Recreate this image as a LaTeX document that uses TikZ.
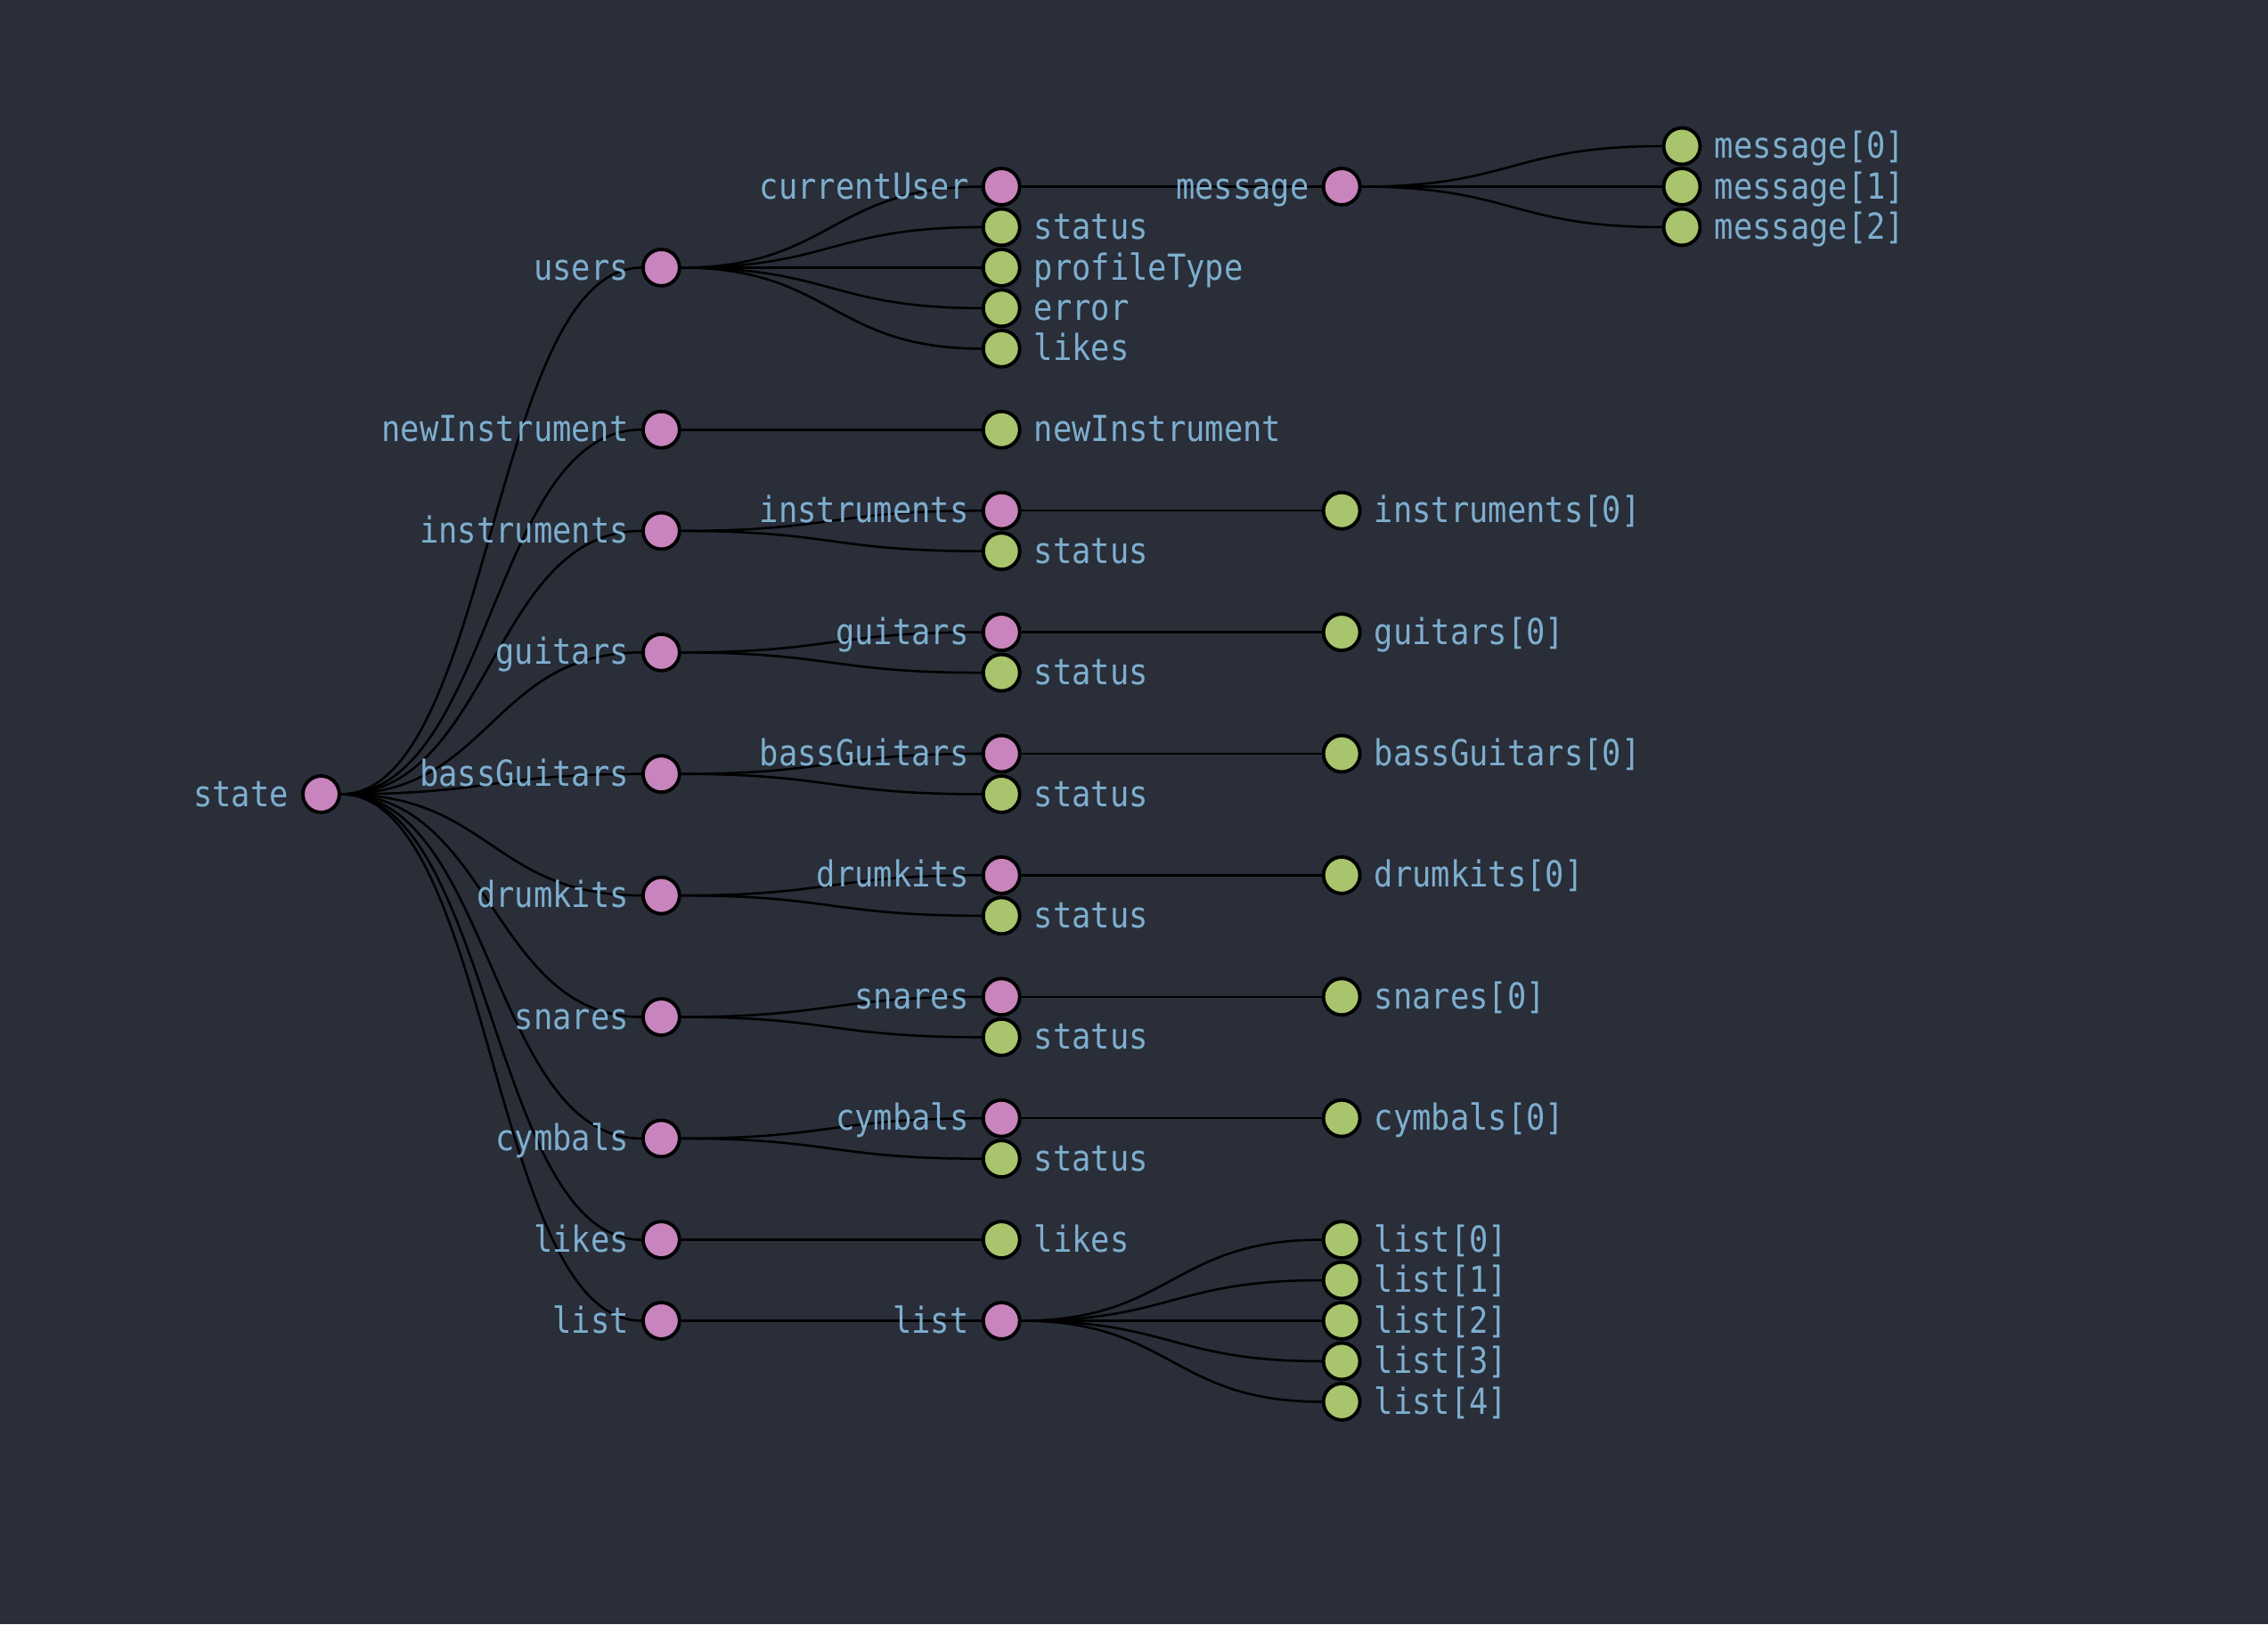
\documentclass[tikz,border=0pt]{standalone}
\usepackage{fontspec}
\setmonofont[FakeStretch=0.88]{DejaVu Sans Mono}
\definecolor{bgcol}{RGB}{41,46,57}
\definecolor{objfill}{RGB}{200,132,188}
\definecolor{leaffill}{RGB}{168,196,108}
\definecolor{txtcol}{RGB}{126,174,206}
\pgfdeclarelayer{edges}
\pgfsetlayers{edges,main}
\tikzset{obj/.style={circle, draw=black, line width=1.2pt, fill=objfill, minimum size=0.45cm, inner sep=0pt},
  leaf/.style={obj, fill=leaffill},
  every label/.style={text=txtcol, font=\ttfamily\fontsize{12.6}{14}\selectfont, inner sep=0.1cm, text height=1.05em, text depth=0.2em},
  label distance=0.05cm,
  link/.style={draw=black, line width=0.8pt, to path={.. controls +(2.1,0) and +(-2.1,0) .. (\tikztotarget)}}}

\begin{document}
\begin{tikzpicture}
    % root and first level
    \node[obj, label=left:state] (state) at (0, 0) {};
    \node[obj, label=left:users] (users) at (4.2, 6.5) {};
    \node[obj, label=left:newInstrument] (newinst) at (4.2, 4.5) {};
    \node[obj, label=left:instruments] (instr) at (4.2, 3.25) {};
    \node[obj, label=left:guitars] (guit) at (4.2, 1.75) {};
    \node[obj, label=left:bassGuitars] (bass) at (4.2, 0.25) {};
    \node[obj, label=left:drumkits] (drum) at (4.2, -1.25) {};
    \node[obj, label=left:snares] (snar) at (4.2, -2.75) {};
    \node[obj, label=left:cymbals] (cymb) at (4.2, -4.25) {};
    \node[obj, label=left:likes] (likes) at (4.2, -5.5) {};
    \node[obj, label=left:list] (list) at (4.2, -6.5) {};
    % second level
    \node[obj, label=left:currentUser] (cuser) at (8.4, 7.5) {};
    \node[leaf, label=right:status] (ustat) at (8.4, 7) {};
    \node[leaf, label=right:profileType] (uprof) at (8.4, 6.5) {};
    \node[leaf, label=right:error] (uerr) at (8.4, 6) {};
    \node[leaf, label=right:likes] (ulikes) at (8.4, 5.5) {};
    \node[leaf, label=right:newInstrument] (newinst2) at (8.4, 4.5) {};
    \node[obj, label=left:instruments] (instr2) at (8.4, 3.5) {};
    \node[leaf, label=right:status] (istat) at (8.4, 3) {};
    \node[obj, label=left:guitars] (guit2) at (8.4, 2) {};
    \node[leaf, label=right:status] (gstat) at (8.4, 1.5) {};
    \node[obj, label=left:bassGuitars] (bass2) at (8.4, 0.5) {};
    \node[leaf, label=right:status] (bstat) at (8.4, 0) {};
    \node[obj, label=left:drumkits] (drum2) at (8.4, -1) {};
    \node[leaf, label=right:status] (dstat) at (8.4, -1.5) {};
    \node[obj, label=left:snares] (snar2) at (8.4, -2.5) {};
    \node[leaf, label=right:status] (sstat) at (8.4, -3) {};
    \node[obj, label=left:cymbals] (cymb2) at (8.4, -4) {};
    \node[leaf, label=right:status] (cstat) at (8.4, -4.5) {};
    \node[leaf, label=right:likes] (likes2) at (8.4, -5.5) {};
    \node[obj, label=left:list] (list2) at (8.4, -6.5) {};
    % third level
    \node[obj, label=left:message] (msg) at (12.6, 7.5) {};
    \node[leaf, label={right:{instruments[0]}}] (instr0) at (12.6, 3.5) {};
    \node[leaf, label={right:{guitars[0]}}] (guit0) at (12.6, 2) {};
    \node[leaf, label={right:{bassGuitars[0]}}] (bass0) at (12.6, 0.5) {};
    \node[leaf, label={right:{drumkits[0]}}] (drum0) at (12.6, -1) {};
    \node[leaf, label={right:{snares[0]}}] (snar0) at (12.6, -2.5) {};
    \node[leaf, label={right:{cymbals[0]}}] (cymb0) at (12.6, -4) {};
    \node[leaf, label={right:{list[0]}}] (list0) at (12.6, -5.5) {};
    \node[leaf, label={right:{list[1]}}] (list1) at (12.6, -6) {};
    \node[leaf, label={right:{list[2]}}] (list2b) at (12.6, -6.5) {};
    \node[leaf, label={right:{list[3]}}] (list3) at (12.6, -7) {};
    \node[leaf, label={right:{list[4]}}] (list4) at (12.6, -7.5) {};
    % fourth level
    \node[leaf, label={right:{message[0]}}] (msg0) at (16.8, 8) {};
    \node[leaf, label={right:{message[1]}}] (msg1) at (16.8, 7.5) {};
    \node[leaf, label={right:{message[2]}}] (msg2) at (16.8, 7) {};
    \begin{pgfonlayer}{edges}
    \fill[bgcol] (-3.964,-10.25) rectangle (24.036,9.804);
    \path[link]
    	(state) edge (users)
    	(state) edge (newinst)
    	(state) edge (instr)
    	(state) edge (guit)
    	(state) edge (bass)
    	(state) edge (drum)
    	(state) edge (snar)
    	(state) edge (cymb)
    	(state) edge (likes)
    	(state) edge (list)
    	(users) edge (cuser)
    	(users) edge (ustat)
    	(users) edge (uprof)
    	(users) edge (uerr)
    	(users) edge (ulikes)
    	(newinst) edge (newinst2)
    	(instr) edge (instr2)
    	(instr) edge (istat)
    	(guit) edge (guit2)
    	(guit) edge (gstat)
    	(bass) edge (bass2)
    	(bass) edge (bstat)
    	(drum) edge (drum2)
    	(drum) edge (dstat)
    	(snar) edge (snar2)
    	(snar) edge (sstat)
    	(cymb) edge (cymb2)
    	(cymb) edge (cstat)
    	(likes) edge (likes2)
    	(list) edge (list2)
    	(cuser) edge (msg)
    	(instr2) edge (instr0)
    	(guit2) edge (guit0)
    	(bass2) edge (bass0)
    	(drum2) edge (drum0)
    	(snar2) edge (snar0)
    	(cymb2) edge (cymb0)
    	(list2) edge (list0)
    	(list2) edge (list1)
    	(list2) edge (list2b)
    	(list2) edge (list3)
    	(list2) edge (list4)
    	(msg) edge (msg0)
    	(msg) edge (msg1)
    	(msg) edge (msg2)
    	;
    \end{pgfonlayer}
\end{tikzpicture}
\end{document}
